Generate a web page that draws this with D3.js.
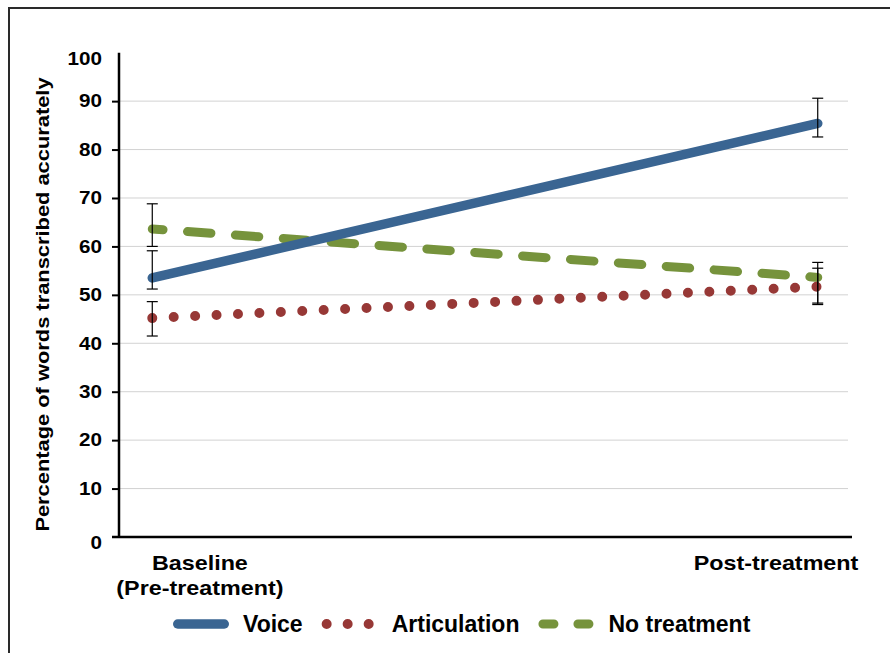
<!DOCTYPE html>
<html>
<head>
<meta charset="utf-8">
<script src="https://cdn.jsdelivr.net/npm/d3@7"></script>
<style>
  body { margin: 0; background: #fff; }
  svg text { font-family: "Liberation Sans", Arial, sans-serif; font-weight: bold; fill: #000; }
</style>
</head>
<body>
<div id="chart"></div>
<script>
// data
const categories = ["Baseline", "Post-treatment"];
const categoryLines = [["Baseline", "(Pre-treatment)"], ["Post-treatment"]];
const seriesNames = ["Voice", "Articulation", "No treatment"];

const voiceValues = [53.5, 85.4];
const voiceErrHigh = [59.1, 90.6];
const voiceErrLow = [51.2, 82.6];

const articulationValues = [45.2, 51.7];
const articulationErrHigh = [48.6, 55.5];
const articulationErrLow = [41.5, 48.0];

const noTreatmentValues = [63.6, 53.6];
const noTreatmentErrHigh = [68.8, 56.7];
const noTreatmentErrLow = [60.0, 48.3];

const yTickLabels = [0, 10, 20, 30, 40, 50, 60, 70, 80, 90, 100];
const gridValues = [10, 20, 30, 40, 50, 60, 70, 80, 90];

const chartW = 890, chartH = 653;
const plotLeft = 119, plotRight = 851, plotTop = 52.7, plotBottom = 537;

const svg = d3.select("#chart").append("svg")
    .attr("width", chartW)
    .attr("height", chartH);

// outer frame
svg.append("rect")
    .attr("x", 9).attr("y", 8)
    .attr("width", 920).attr("height", 700)
    .attr("fill", "none")
    .attr("stroke", "#2a2a2a")
    .attr("stroke-width", 2);

const y = d3.scaleLinear().domain([0, 100]).range([plotBottom, plotTop]);
const x = d3.scalePoint().domain(categories).range([plotLeft, plotRight]).padding(0.05);
const xLabel = d3.scalePoint().domain(categories).range([125, plotRight]).padding(0.13);

// stretch text to the wider rendering seen in the picture
function stretch(sel, factor) {
    sel.each(function () {
        const len = this.getComputedTextLength();
        d3.select(this).attr("textLength", len * factor).attr("lengthAdjust", "spacingAndGlyphs");
    });
}

// gridlines
svg.append("g")
    .selectAll("line")
    .data(gridValues)
    .enter()
    .append("line")
    .attr("x1", plotLeft).attr("x2", 848)
    .attr("y1", d => y(d)).attr("y2", d => y(d))
    .attr("stroke", "#d2d2d2")
    .attr("stroke-width", 1);

// y axis ticks
const yAxis = svg.append("g")
    .attr("transform", "translate(" + plotLeft + ",0)")
    .call(d3.axisLeft(y).tickValues(gridValues).tickSize(7).tickFormat(""));
yAxis.select(".domain").remove();
yAxis.selectAll(".tick line").attr("stroke", "#000").attr("stroke-width", 2);

svg.append("line")
    .attr("x1", plotLeft).attr("x2", plotLeft)
    .attr("y1", y(100)).attr("y2", plotBottom)
    .attr("stroke", "#000").attr("stroke-width", 2.5);

// x axis line
svg.append("line")
    .attr("x1", 112).attr("x2", 852)
    .attr("y1", plotBottom).attr("y2", plotBottom)
    .attr("stroke", "#000").attr("stroke-width", 2.5);

// y tick labels
svg.append("g")
    .selectAll("text")
    .data(yTickLabels)
    .enter()
    .append("text")
    .attr("x", 102)
    .attr("y", d => y(d) + (d === 0 || d === 100 ? 6 : 0))
    .attr("dy", "0.36em")
    .attr("text-anchor", "end")
    .style("font-size", "17.5px")
    .text(d => d)
    .call(stretch, 1.18);

// y title
svg.append("text")
    .attr("transform", "translate(49," + y(48) + ") rotate(-90)")
    .attr("text-anchor", "middle")
    .style("font-size", "19px")
    .text("Percentage of words transcribed accurately")
    .call(stretch, 1.15);

// category labels
const catG = svg.append("g")
    .selectAll("text")
    .data(categories)
    .enter()
    .append("text")
    .attr("x", d => xLabel(d))
    .attr("y", 570)
    .attr("text-anchor", "middle")
    .style("font-size", "21px");
catG.selectAll("tspan")
    .data((d, i) => categoryLines[i])
    .enter()
    .append("tspan")
    .attr("x", function () { return d3.select(this.parentNode).attr("x"); })
    .attr("dy", (d, i) => i === 0 ? 0 : 25)
    .text(d => d);
catG.selectAll("tspan").call(stretch, 1.11);

// series styles
const seriesStyle = [
    { color: "#3a6592", width: 9.5, dash: null, offset: 0, legendDash: null },
    { color: "#973836", width: 10, dash: "0 21.45", offset: 0, legendDash: "0 21" },
    { color: "#76933c", width: 9, dash: "23.5 24.5", offset: 12.7, legendDash: "11 24" }
];
const seriesValues = [voiceValues, articulationValues, noTreatmentValues];
const seriesHigh = [voiceErrHigh, articulationErrHigh, noTreatmentErrHigh];
const seriesLow = [voiceErrLow, articulationErrLow, noTreatmentErrLow];

const line = d3.line()
    .x((d, i) => x(categories[i]))
    .y(d => y(d));

// draw order: no treatment, voice, articulation
[2, 0, 1].forEach(function (s) {
    const st = seriesStyle[s];
    svg.append("path")
        .datum(seriesValues[s])
        .attr("d", line)
        .attr("fill", "none")
        .attr("stroke", st.color)
        .attr("stroke-width", st.width)
        .attr("stroke-linecap", "round")
        .attr("stroke-dasharray", st.dash)
        .attr("stroke-dashoffset", st.offset);
});

// error bars
const errG = svg.append("g").attr("stroke", "#000").attr("stroke-width", 1.2);
[0, 1, 2].forEach(function (s) {
    categories.forEach(function (c, i) {
        const cx = x(c);
        errG.append("line")
            .attr("x1", cx).attr("x2", cx)
            .attr("y1", y(seriesHigh[s][i])).attr("y2", y(seriesLow[s][i]));
        [seriesHigh[s][i], seriesLow[s][i]].forEach(function (v) {
            errG.append("line")
                .attr("x1", cx - 5.5).attr("x2", cx + 5.5)
                .attr("y1", y(v)).attr("y2", y(v));
        });
    });
});

// legend
const legendY = 624;
let lx = 173;
seriesNames.forEach(function (name, s) {
    const st = seriesStyle[s];
    const cap = st.width / 2;
    svg.append("line")
        .attr("x1", lx + cap).attr("x2", lx + 56 - cap)
        .attr("y1", legendY).attr("y2", legendY)
        .attr("stroke", st.color)
        .attr("stroke-width", st.width)
        .attr("stroke-linecap", "round")
        .attr("stroke-dasharray", st.legendDash);
    const t = svg.append("text")
        .attr("x", lx + 56 + 14)
        .attr("y", legendY + 7.5)
        .style("font-size", "23px")
        .text(name);
    lx += 56 + 14 + t.node().getComputedTextLength() + 19;
});
</script>
</body>
</html>
